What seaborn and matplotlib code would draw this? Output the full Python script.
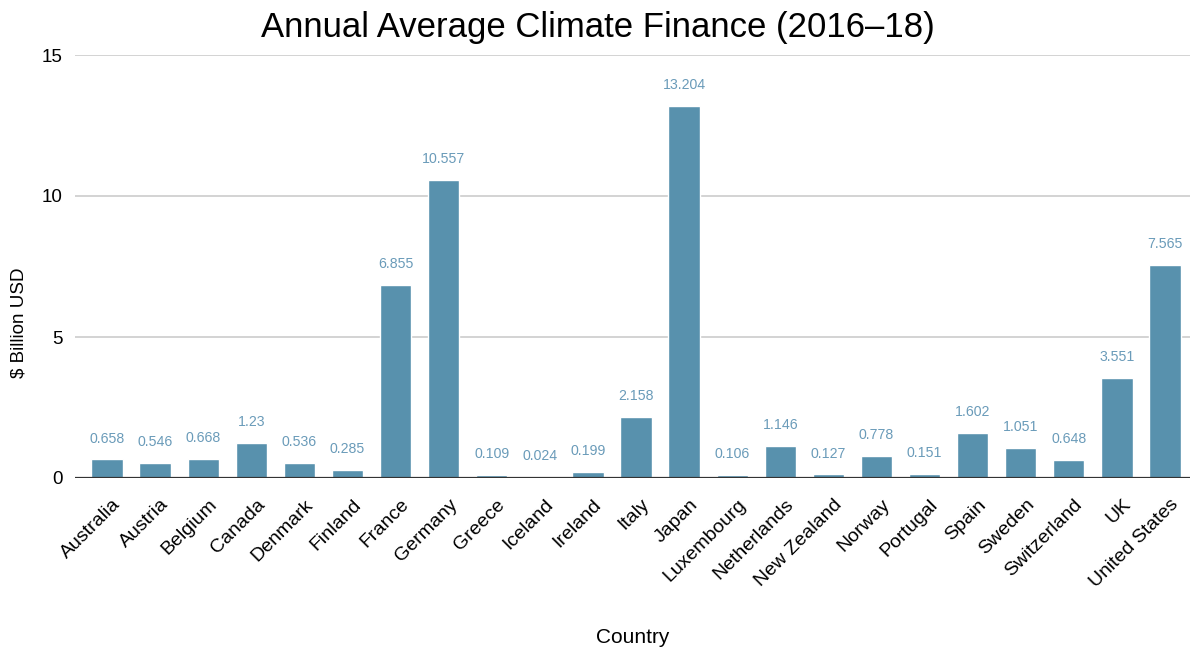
import matplotlib
matplotlib.use("Agg")
import matplotlib.pyplot as plt
import matplotlib.transforms as mtransforms
import seaborn as sns
import pandas as pd

countries = ["Australia", "Austria", "Belgium", "Canada", "Denmark", "Finland", "France",
             "Germany", "Greece", "Iceland", "Ireland", "Italy", "Japan", "Luxembourg",
             "Netherlands", "New Zealand", "Norway", "Portugal", "Spain", "Sweden",
             "Switzerland", "UK", "United States"]
values = [0.658, 0.546, 0.668, 1.23, 0.536, 0.285, 6.855, 10.557, 0.109, 0.024, 0.199,
          2.158, 13.204, 0.106, 1.146, 0.127, 0.778, 0.151, 1.602, 1.051, 0.648, 3.551, 7.565]
labels = ["0.658", "0.546", "0.668", "1.23", "0.536", "0.285", "6.855", "10.557", "0.109",
          "0.024", "0.199", "2.158", "13.204", "0.106", "1.146", "0.127", "0.778", "0.151",
          "1.602", "1.051", "0.648", "3.551", "7.565"]
yticks = [0, 5, 10, 15]

sns.set_theme(style="white")
plt.rcParams['font.family'] = ['Liberation Sans', 'DejaVu Sans']
plt.rcParams['text.color'] = 'black'
plt.rcParams['axes.labelcolor'] = 'black'
plt.rcParams['xtick.color'] = 'black'
plt.rcParams['ytick.color'] = 'black'

df = pd.DataFrame({"Country": countries, "Value": values})
fig = plt.figure(figsize=(11.95, 6.5), dpi=100)
W, H = 1195, 650
ax = fig.add_axes([75 / W, 1 - 478 / H, (1190 - 75) / W, (478 - 55) / H])

bar_color = "#5891ad"
sns.barplot(data=df, x="Country", y="Value", color=bar_color, width=0.65,
            saturation=1, ax=ax, zorder=3)

for i, (v, t) in enumerate(zip(values, labels)):
    ax.annotate(t, (i, v), xytext=(0, 10), textcoords="offset points",
                ha="center", va="bottom", fontsize=10.2, color="#6a9bb9")

ax.set_ylim(0, 15)
ax.set_xlim(-0.665, len(countries) - 1 + 0.52)
ax.set_yticks(yticks)
ax.set_yticklabels([str(t) for t in yticks], fontsize=13.5)
ax.yaxis.grid(True, color="#cccccc", linewidth=1.2, zorder=0)
ax.axhline(0, color="#333333", linewidth=1.6, zorder=4)
for s in ax.spines.values():
    s.set_visible(False)
ax.tick_params(axis="both", length=0)
ax.tick_params(axis="y", pad=9)
ax.tick_params(axis="x", pad=13)
offset = mtransforms.ScaledTranslation(5 / 100, 0, fig.dpi_scale_trans)
for lab in ax.get_xticklabels():
    lab.set_rotation(45)
    lab.set_ha("right")
    lab.set_rotation_mode("anchor")
    lab.set_fontsize(14)
    lab.set_transform(lab.get_transform() + offset)

ax.set_xlabel("Country", fontsize=15)
ax.xaxis.set_label_coords(0.5, (478 - 628) / (478 - 55))
ax.set_ylabel("$ Billion USD", fontsize=13.5)
ax.yaxis.set_label_coords((28 - 75) / (1190 - 75), (478 - 323) / (478 - 55))
fig.text(0.5, 1 - 37 / H, "Annual Average Climate Finance (2016–18)", fontsize=25,
         ha="center", va="baseline")

fig.savefig("out.png", dpi=100)
